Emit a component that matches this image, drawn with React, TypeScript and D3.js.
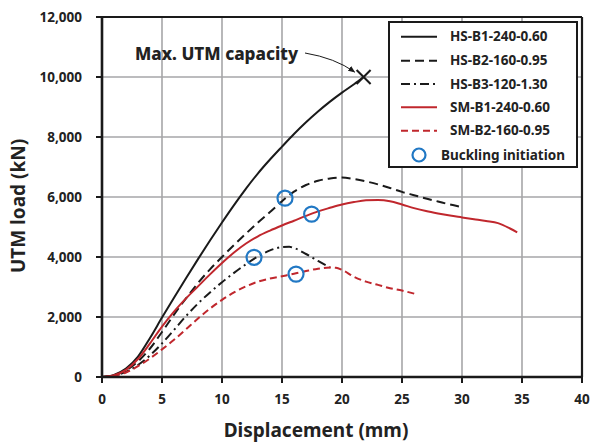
import React from "react";
import * as d3 from "d3";

type P = [number, number];

const xTicks = [0, 5, 10, 15, 20, 25, 30, 35, 40];
const yTicks = [0, 2000, 4000, 6000, 8000, 10000, 12000];

const hsB1: P[] = [[0,0],[1,70],[2,280],[3,680],[4,1300],[5,1980],[6,2640],[7,3290],[8,3930],[9,4550],[10,5150],[11,5730],[12,6280],[13,6790],[14,7250],[15,7680],[16,8100],[17,8490],[18,8850],[19,9180],[20,9480],[21,9760],[21.8,10000]];
const hsB2: P[] = [[0,0],[1,60],[2,220],[3,520],[4,950],[5,1500],[6,2080],[7,2620],[8,3130],[9,3590],[10,4000],[11,4400],[12,4780],[13,5150],[14,5500],[15,5860],[16,6180],[17,6400],[18,6540],[19,6620],[20,6650],[21,6600],[22,6520],[23,6420],[24,6300],[25,6170],[26,6060],[27,5950],[28,5850],[29,5750],[29.8,5680]];
const hsB3: P[] = [[0,0],[1,50],[2,170],[3,400],[4,720],[5,1120],[6,1570],[7,2030],[8,2450],[9,2820],[10,3160],[11,3470],[12,3760],[13,4020],[14,4220],[15,4330],[15.6,4340],[16,4300],[17,4100],[18,3870],[19,3650]];
const smB1: P[] = [[0,0],[1,60],[2,240],[3,600],[4,1120],[5,1680],[6,2180],[7,2620],[8,3020],[9,3420],[10,3800],[11,4150],[12,4450],[13,4690],[14,4880],[15,5050],[16,5210],[17,5370],[18,5520],[19,5640],[20,5750],[21,5830],[22,5890],[23,5900],[24,5860],[25,5750],[26,5630],[27,5530],[28,5450],[29,5380],[30,5320],[31,5260],[32,5200],[33,5130],[34,4950],[34.6,4820]];
const smB2: P[] = [[0,0],[1,40],[2,150],[3,360],[4,620],[5,920],[6,1240],[7,1590],[8,1950],[9,2280],[10,2570],[11,2820],[12,3020],[13,3180],[14,3280],[15,3360],[16,3440],[17,3530],[18,3610],[19,3650],[19.5,3640],[20,3570],[21,3340],[22,3180],[23,3070],[24,2960],[25,2880],[26.1,2770]];

const buckling: P[] = [[15.25, 5960], [17.47, 5430], [12.67, 3990], [16.17, 3430]];
const maxPoint: P = [21.8, 10000];

const seriesNames = ["HS-B1-240-0.60", "HS-B2-160-0.95", "HS-B3-120-1.30", "SM-B1-240-0.60", "SM-B2-160-0.95"];
const seriesData = [hsB1, hsB2, hsB3, smB1, smB2];

const BLACK = "#1a1a1a";
const RED = "#c0272d";
const BLUE = "#2178c4";
const styles = [
  { color: BLACK, dash: "none" },
  { color: BLACK, dash: "9,5" },
  { color: BLACK, dash: "9,4,2,4" },
  { color: RED, dash: "none" },
  { color: RED, dash: "7,4" },
];

const FONT = "'Noto Sans', 'DejaVu Sans', sans-serif";

export default function App() {
  const x = d3.scaleLinear().domain([0, 40]).range([102, 582]);
  const y = d3.scaleLinear().domain([0, 12000]).range([377, 17]);
  const line = d3
    .line<P>()
    .x((d) => x(d[0]))
    .y((d) => y(d[1]))
    .curve(d3.curveMonotoneX);
  const fmt = d3.format(",");
  const mx = x(maxPoint[0]);
  const my = y(maxPoint[1]);

  const legendRows = [36.7, 60.7, 84, 107.3, 130.7, 155];

  return (
    <svg
      width={592}
      height={443}
      style={{ position: "absolute", left: 0, top: 0, background: "#fff" }}
      fontFamily={FONT}
    >
      <rect x={0} y={0} width={592} height={443} fill="#fff" />
      {xTicks.slice(1, -1).map((t) => (
        <line key={"gx" + t} x1={x(t)} x2={x(t)} y1={y(0)} y2={y(12000)} stroke="#a6a6a8" strokeWidth={1.6} />
      ))}
      {yTicks.slice(1, -1).map((t) => (
        <line key={"gy" + t} x1={x(0)} x2={x(40)} y1={y(t)} y2={y(t)} stroke="#a6a6a8" strokeWidth={1.6} />
      ))}
      <line x1={x(0)} x2={x(40)} y1={y(12000)} y2={y(12000)} stroke={BLACK} strokeWidth={2.2} />
      <line x1={x(40)} x2={x(40)} y1={y(12000)} y2={y(0)} stroke={BLACK} strokeWidth={2.2} />
      {seriesData.map((d, i) => (
        <path
          key={"s" + i}
          d={line(d) || ""}
          fill="none"
          stroke={styles[i].color}
          strokeWidth={2}
          strokeDasharray={styles[i].dash}
        />
      ))}
      <line x1={x(0)} x2={x(40)} y1={y(0)} y2={y(0)} stroke={BLACK} strokeWidth={2.6} />
      <line x1={x(0)} x2={x(0)} y1={y(0)} y2={y(12000)} stroke={BLACK} strokeWidth={2.6} />
      {xTicks.map((t) => (
        <g key={"xt" + t}>
          <line x1={x(t)} x2={x(t)} y1={y(0)} y2={y(0) + 6} stroke={BLACK} strokeWidth={2} />
          <text x={x(t)} y={404} textAnchor="middle" fontSize={13.5} fontWeight={700} fill="#222">
            {t}
          </text>
        </g>
      ))}
      {yTicks.map((t) => (
        <g key={"yt" + t}>
          <line x1={x(0) - 6} x2={x(0)} y1={y(t)} y2={y(t)} stroke={BLACK} strokeWidth={2} />
          <text x={82} y={y(t) + 4.5} textAnchor="end" fontSize={13.5} fontWeight={700} fill="#222">
            {fmt(t)}
          </text>
        </g>
      ))}
      {buckling.map((d, i) => (
        <circle key={"b" + i} cx={x(d[0])} cy={y(d[1])} r={7.5} fill="none" stroke={BLUE} strokeWidth={2.2} />
      ))}
      <line x1={mx - 7} x2={mx + 7} y1={my - 7} y2={my + 7} stroke={BLACK} strokeWidth={2} />
      <line x1={mx - 7} x2={mx + 7} y1={my + 7} y2={my - 7} stroke={BLACK} strokeWidth={2} />
      <defs>
        <marker id="arr" viewBox="0 0 10 10" refX={9} refY={5} markerWidth={7} markerHeight={7} orient="auto">
          <path d="M0,1 L10,5 L0,9 Z" fill={BLACK} />
        </marker>
      </defs>
      <path
        d={`M305,53 Q335,58 ${mx - 9},${my - 5}`}
        fill="none"
        stroke={BLACK}
        strokeWidth={1}
        markerEnd="url(#arr)"
      />
      <text x={135} y={60} fontSize={17} fontWeight={800} fill="#222" textLength={163} lengthAdjust="spacingAndGlyphs">
        Max. UTM capacity
      </text>
      <rect x={389} y={22} width={188} height={145} fill="#fff" stroke={BLACK} strokeWidth={2} />
      {seriesNames.map((n, i) => (
        <g key={"l" + i}>
          <line
            x1={401}
            x2={437}
            y1={legendRows[i]}
            y2={legendRows[i]}
            stroke={styles[i].color}
            strokeWidth={2}
            strokeDasharray={styles[i].dash}
          />
          <text x={450} y={legendRows[i] + 4.5} fontSize={13.5} fontWeight={700} fill="#222">
            {n}
          </text>
        </g>
      ))}
      <circle cx={419} cy={legendRows[5]} r={6.5} fill="none" stroke={BLUE} strokeWidth={2.2} />
      <text x={441} y={legendRows[5] + 4.5} fontSize={13.5} fontWeight={700} fill="#222">
        Buckling initiation
      </text>
      <text x={316} y={437} textAnchor="middle" fontSize={19} fontWeight={700} fill="#222">
        Displacement (mm)
      </text>
      <text
        transform={`translate(25,206) rotate(-90)`}
        textAnchor="middle"
        fontSize={19}
        fontWeight={700}
        fill="#222"
      >
        UTM load (kN)
      </text>
    </svg>
  );
}
